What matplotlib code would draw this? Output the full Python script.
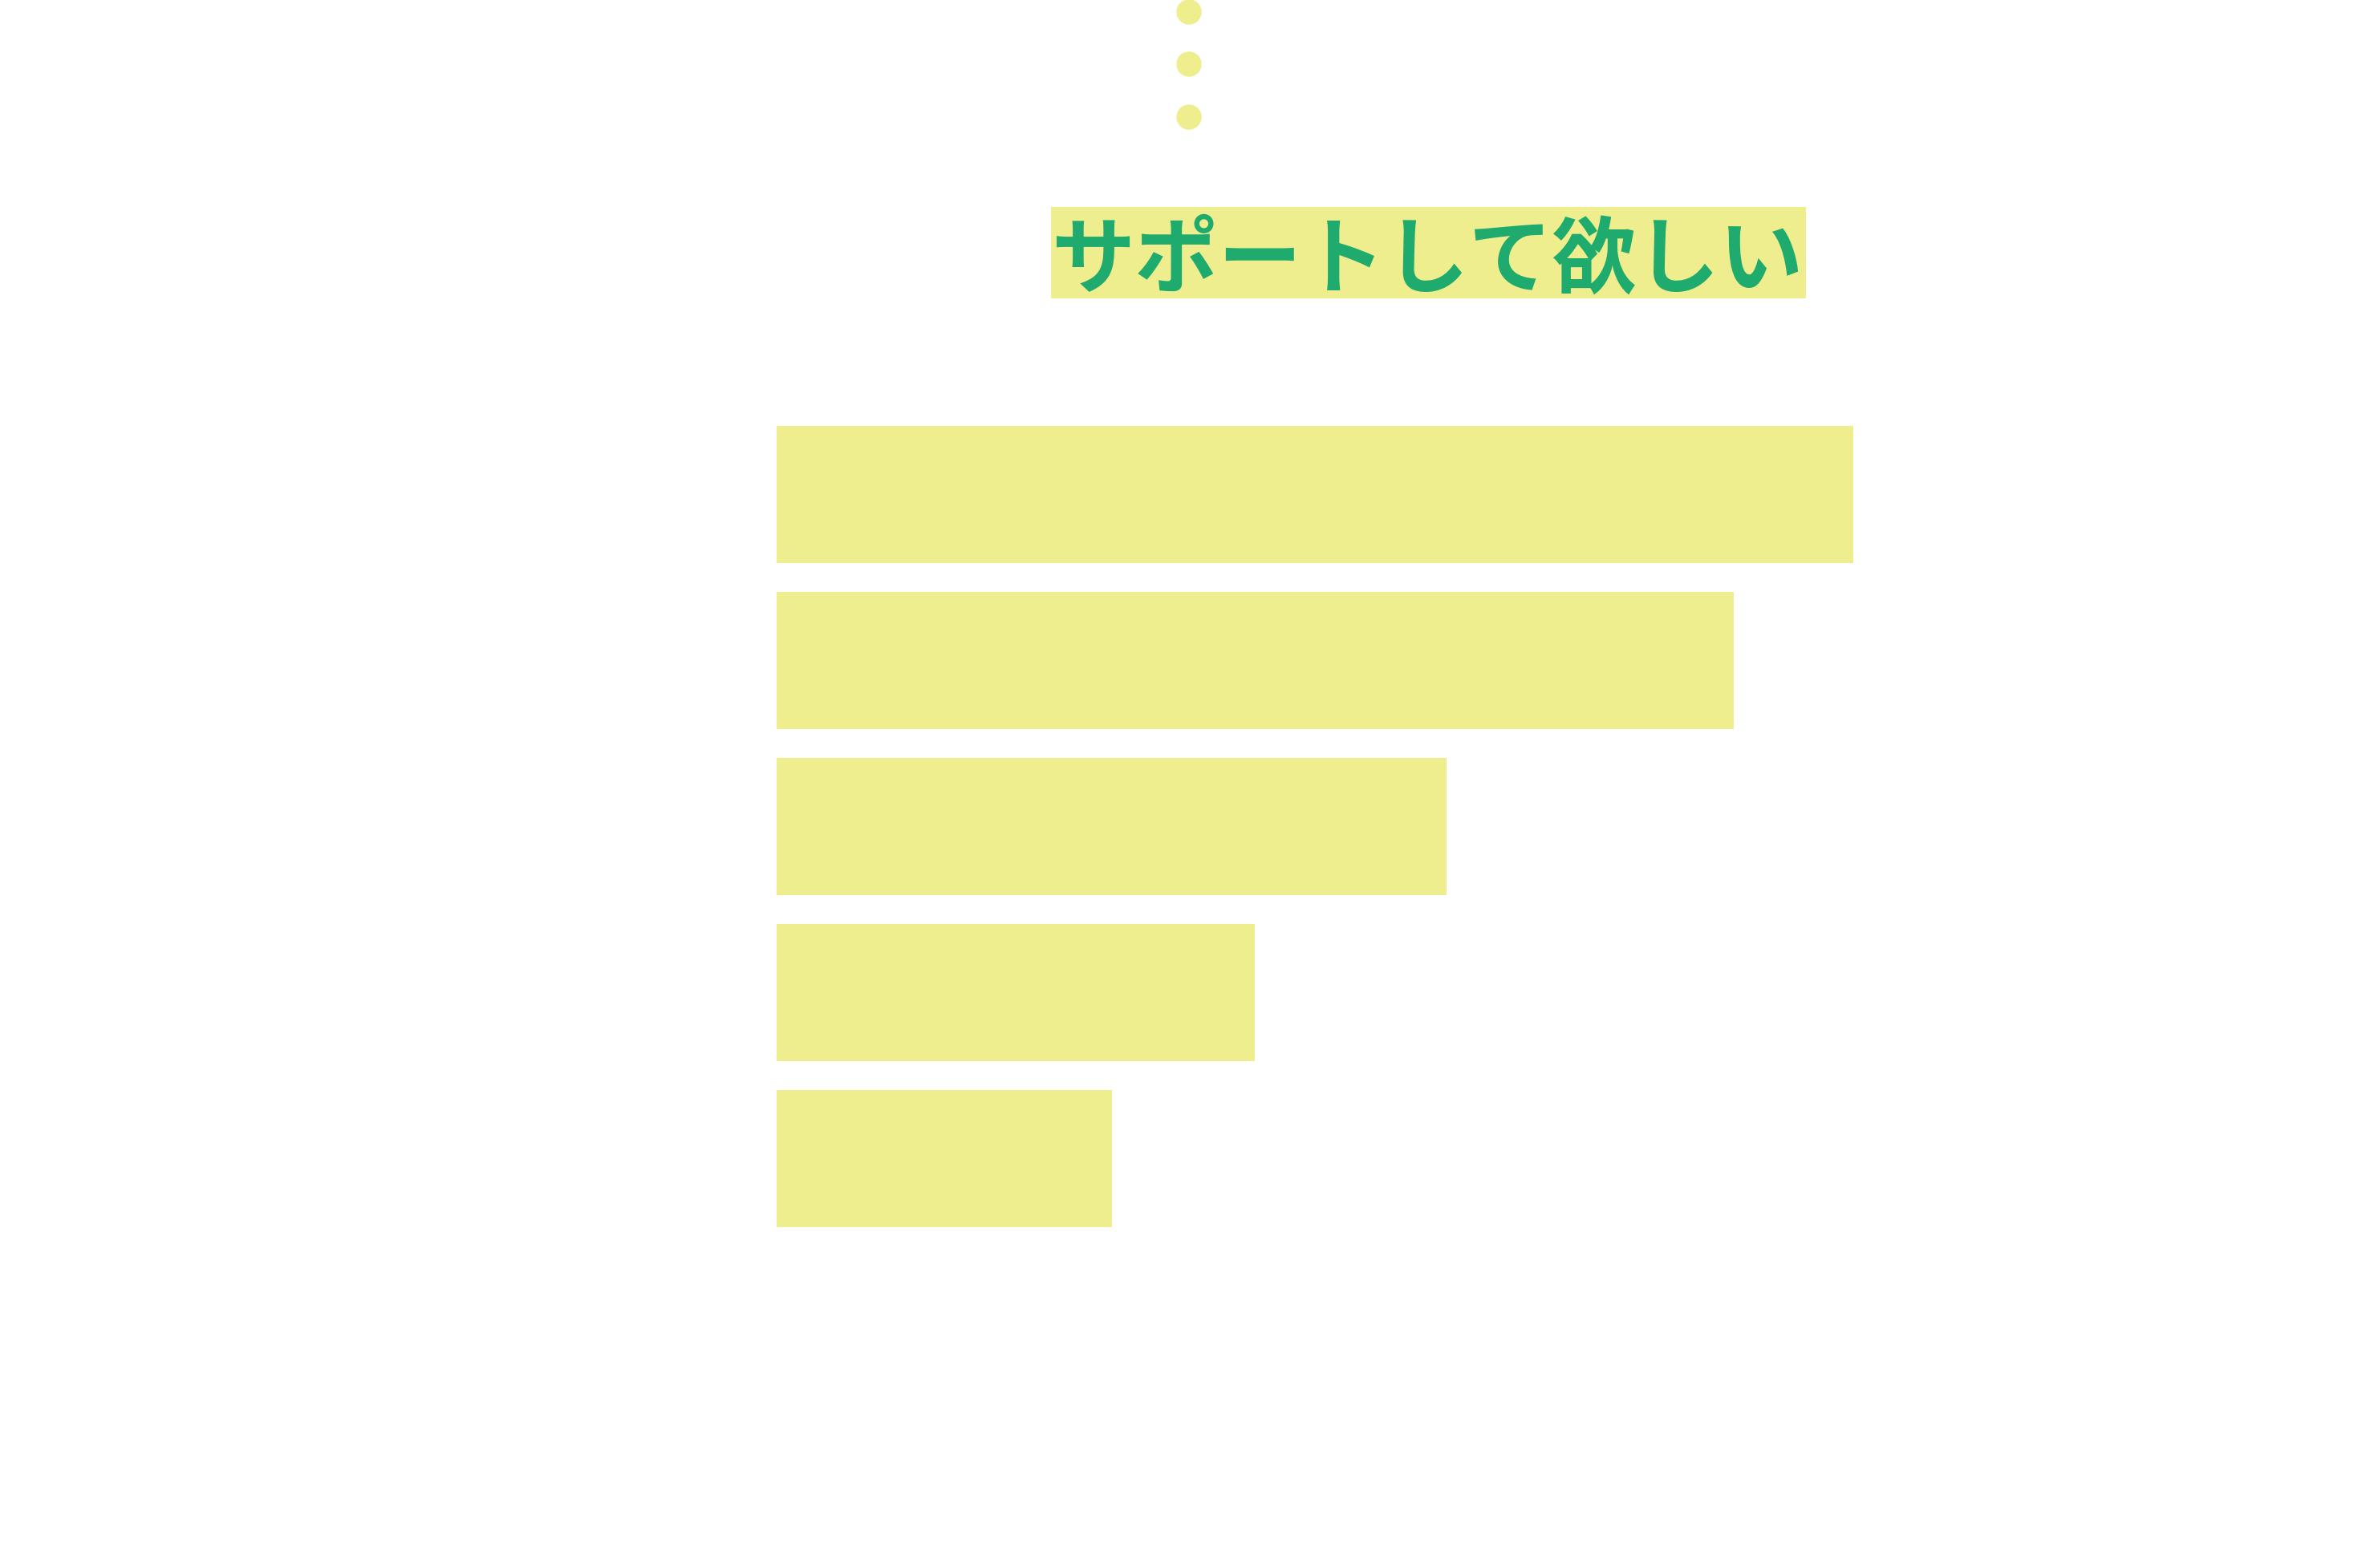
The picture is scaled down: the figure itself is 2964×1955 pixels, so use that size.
import matplotlib
import matplotlib.pyplot as plt
from matplotlib.patches import Ellipse, Rectangle

matplotlib.use("Agg")

# Data
categories = ["A", "B", "C", "D", "E"]
values = [45, 40, 28, 20, 14]
title = "サポートして欲しい"

BAR_COLOR = "#eeee8e"
TEXT_COLOR = "#1faa6e"

W, H = 2964, 1956
fig = plt.figure(figsize=(W / 100, H / 100), dpi=100)
fig.patch.set_facecolor("white")

# Bars
ax = fig.add_axes([968 / W, 1 - 1549 / H, 1342 / W, 1035 / H])
ax.barh(range(len(categories)), values, height=0.83, color=BAR_COLOR)
ax.set_xlim(0, max(values))
ax.set_ylim(len(categories) - 0.5, -0.5)
ax.axis("off")

# Title label with highlight box
fig.add_artist(Rectangle((1310 / W, 1 - 373 / H), 941 / W, 114 / H,
                         transform=fig.transFigure, facecolor=BAR_COLOR,
                         edgecolor="none"))
fig.text(
    1780 / W, 1 - 326 / H, title,
    ha="center", va="center",
    fontsize=75, fontweight="bold", color=TEXT_COLOR,
    family=["Noto Sans CJK JP", "DejaVu Sans"],
)

# Decorative dots above the title
dot_y = [16, 81, 147]
for y in dot_y:
    fig.add_artist(Ellipse((0.5, 1 - y / H), 30 / W, 30 / H,
                           transform=fig.transFigure, color=BAR_COLOR))

fig.savefig("out.png", dpi=100)
